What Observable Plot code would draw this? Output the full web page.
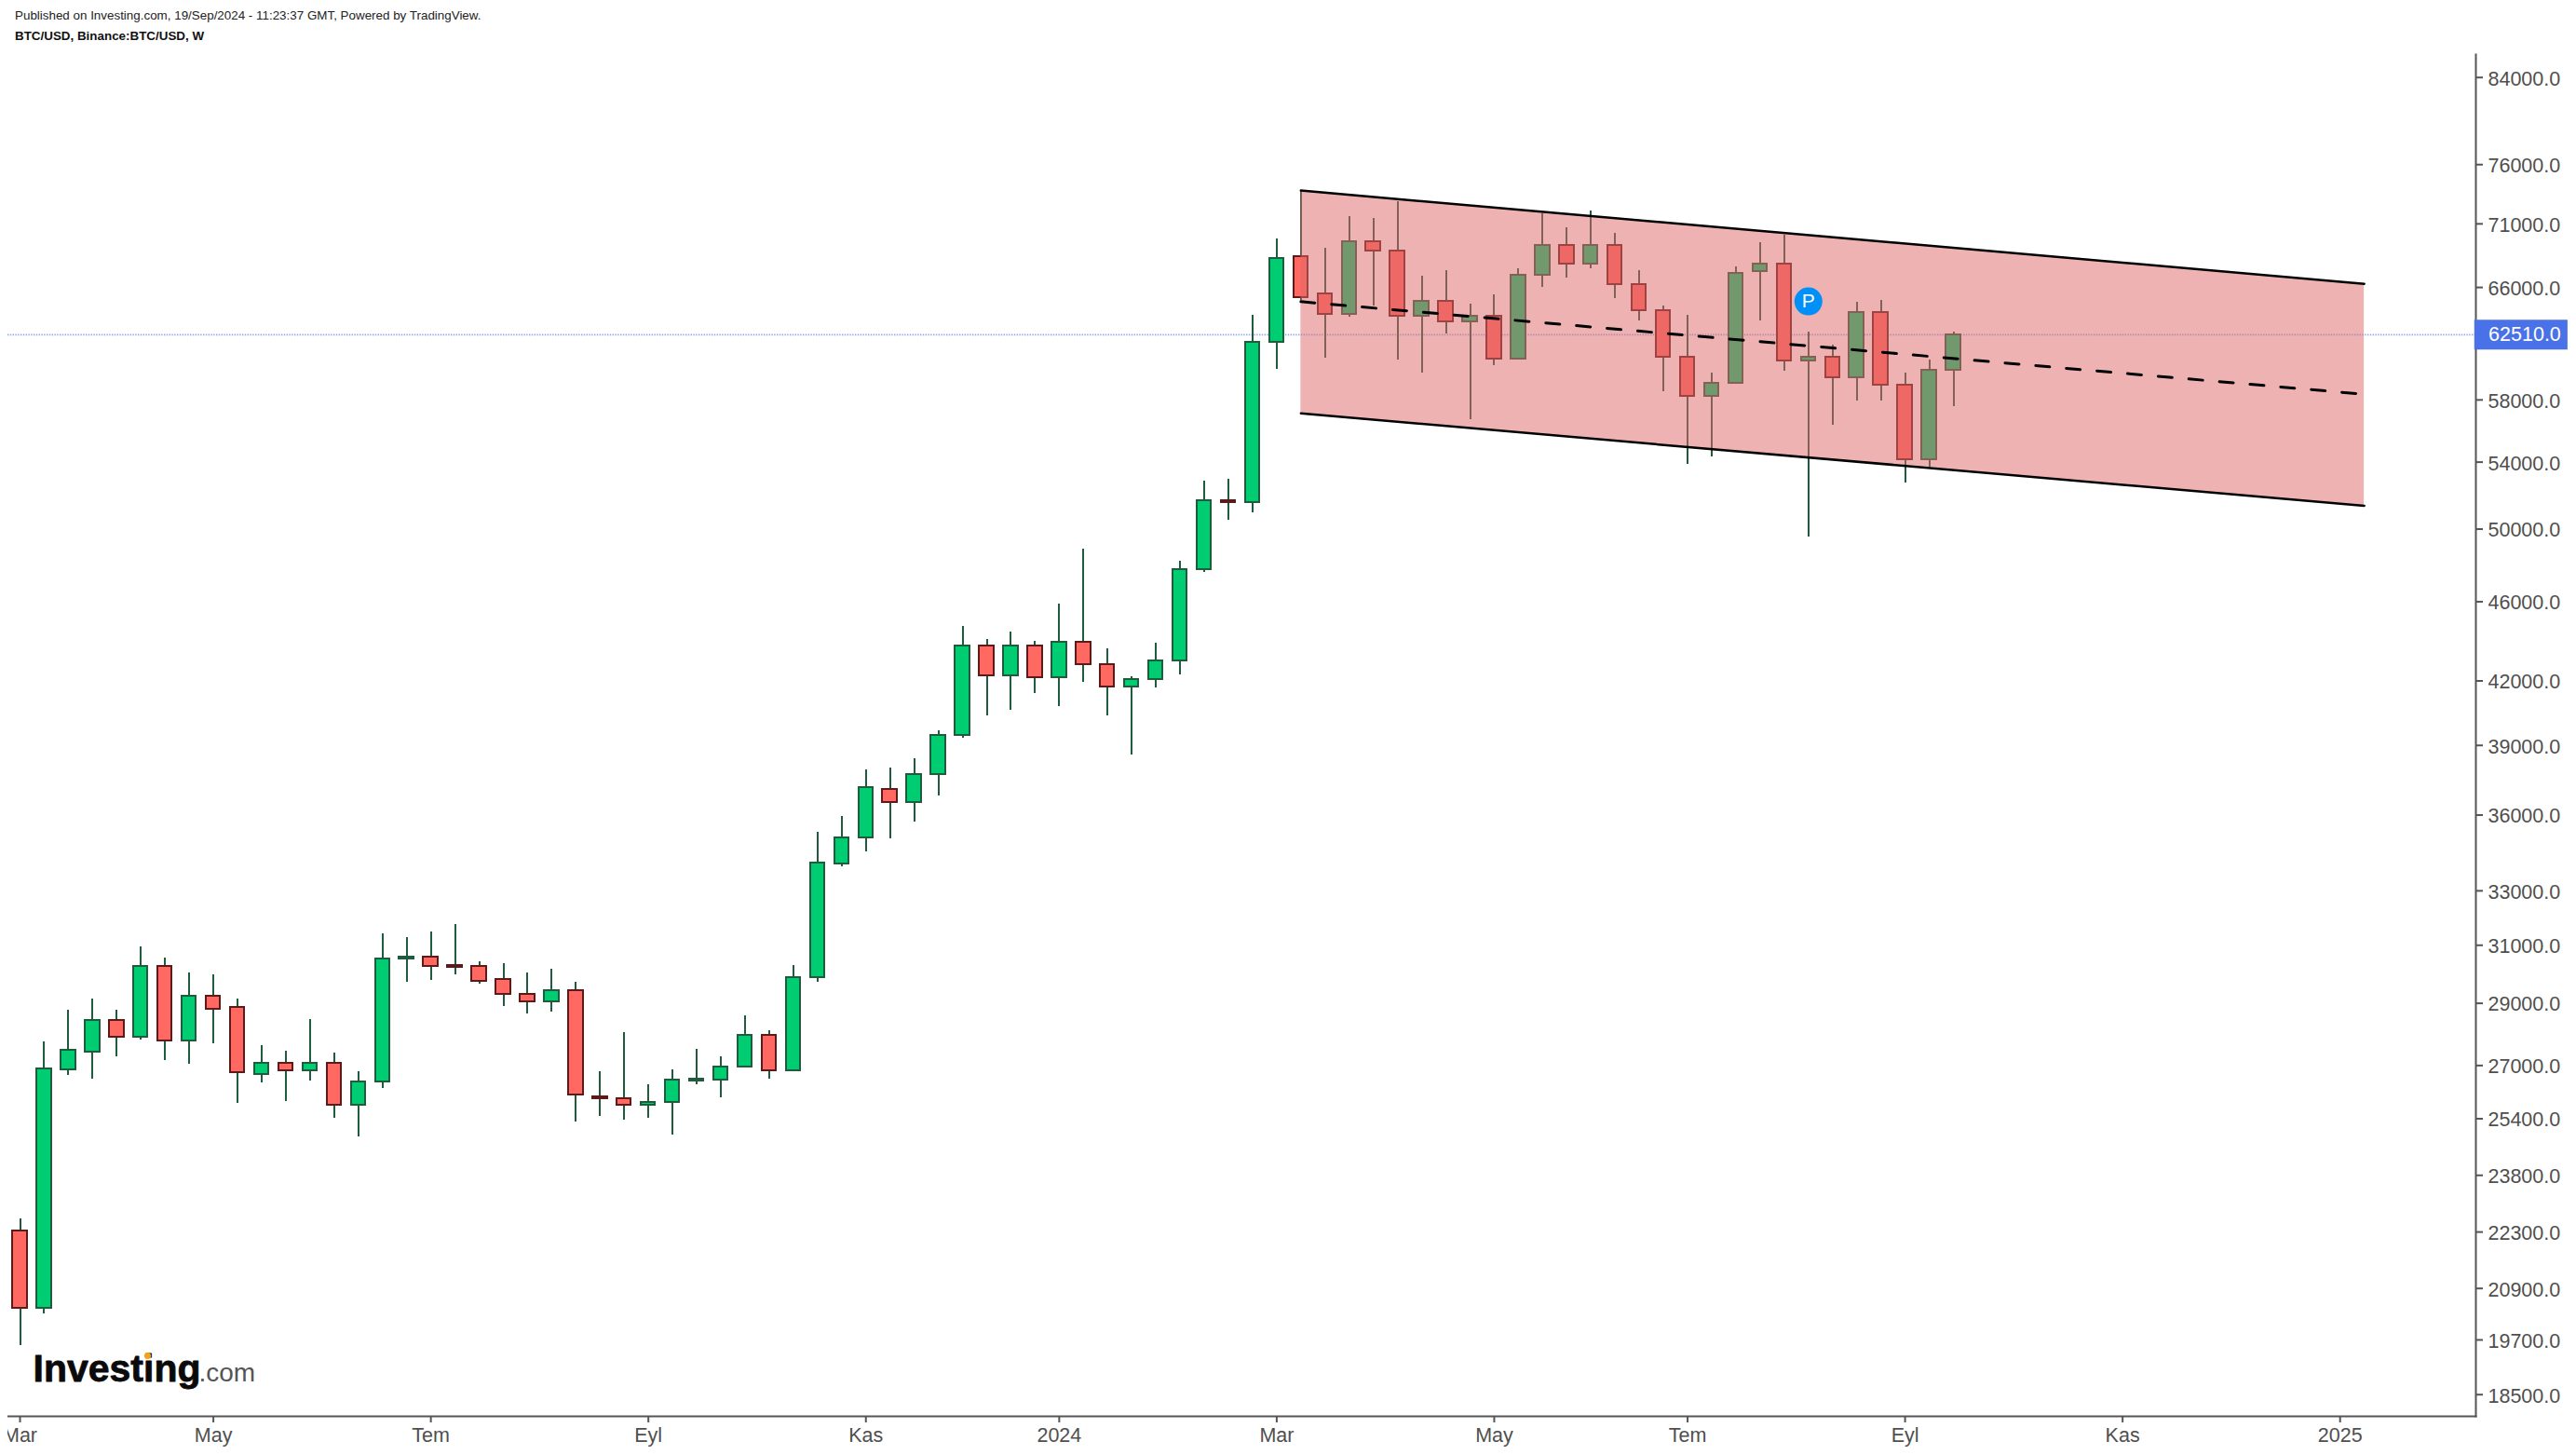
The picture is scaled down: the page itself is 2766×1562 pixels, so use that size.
<!doctype html>
<html><head><meta charset="utf-8">
<script src="https://cdn.jsdelivr.net/npm/d3@7"></script>
<script src="https://cdn.jsdelivr.net/npm/@observablehq/plot@0.6"></script>
<style>
html,body{margin:0;padding:0;background:#fff;overflow:hidden}
#head{position:relative;height:46px;font-family:"Liberation Sans",Arial,sans-serif;color:#222}
#head div{position:absolute;left:16px;white-space:nowrap}
#l1{top:9px;font-size:13.4px}
#l2{top:31px;font-size:13.4px;font-weight:bold;color:#111}
#chart{margin-left:8px}
</style></head><body>
<div id="head">
<div id="l1">Published on Investing.com, 19/Sep/2024 - 11:23:37 GMT, Powered by TradingView.</div>
<div id="l2">BTC/USD, Binance:BTC/USD, W</div>
</div>
<div id="chart"></div>
<script>
const firstWeek = "2023-03-06";
const highs = [22640,27740,28770,29140,28770,30940,30550,30030,29960,29140,27620,27450,28460,27390,26810,31410,31270,31480,31750,30420,30350,30030,30160,29710,26810,
28040,26410,26870,27510,27270,28590,28100,30290,35290,35940,37920,38000,38410,39660,44710,44050,44420,43950,45870,48860,43580,42200,43860,48190,52830,
52950,63920,69780,73770,69040,71600,71440,72830,66860,67290,64750,65440,67430,71850,70680,72060,70230,67290,64610,63920,59820,67580,69480,70080,62700,
61770,64880,65020,59820,60720,62700];
const bodyTops = [22330,26900,27490,28440,28440,30260,30260,29250,29250,28870,27080,27080,27080,27080,26500,30530,30590,30590,30280,30260,29810,29310,29430,29430,26050,
26000,25890,26560,26570,26960,27960,27960,29880,34070,35080,37170,37090,37730,39460,43730,43730,43730,43730,43920,43920,42810,42080,42990,47740,51680,
51680,61990,68260,68400,65540,69580,69580,68840,64980,64980,63870,63870,66950,69290,69290,69290,69290,66240,64290,60940,59140,67100,67820,67820,60940,
60940,64150,64150,59010,60030,62520];
const bodyBottoms = [20440,20440,26880,27410,27880,27880,27760,27760,28790,26770,26710,26830,26830,25810,25810,26490,30500,30240,30230,29730,29290,29040,29040,26090,25980,
25810,25810,25870,26530,26540,26940,26830,26830,29860,34020,35060,36510,36510,37700,39440,42230,42230,42140,42140,42780,41690,41690,42050,42960,47710,
51530,51530,61940,65210,63960,63960,68790,63830,63830,63420,63420,60760,60760,66910,67770,67770,66190,64240,60890,58220,58220,59100,67190,60630,60630,
59480,59480,58970,54130,54130,59990];
const lows = [19570,20300,26690,26580,27270,27800,27150,27040,27680,25850,26470,25910,26520,25410,24870,26300,29710,29770,29960,29650,28890,28650,28710,25300,25470,
25360,25410,24930,26410,26020,26940,26580,26830,29710,33920,34510,35030,35710,36800,39320,40350,40610,41400,40780,41930,40350,38570,41660,42290,47570,
50510,50950,60070,65050,60850,63780,64610,60720,59820,62570,56700,60330,60760,66000,66710,67430,65160,63510,58550,53860,54320,59100,63510,59940,49550,
56340,57930,57930,52720,53670,57560];
const weekDirections = ("d u u u d u d u d d " + "u d u d u u u d d d " + "d d u d d d u u u u " + "u d u u u u d u u u " +
  "d u d u d d u u u u " + "d u u d d u d d u d " + "u d u u d u d d d d " + "u u u d u d u d d u u").split(" ");

const yTicks = [84000,76000,71000,66000,58000,54000,50000,46000,42000,39000,36000,33000,31000,29000,27000,25400,23800,22300,20900,19700,18500];
const xTickDates = ["2023-03-06","2023-05-01","2023-07-03","2023-09-04","2023-11-06","2024-01-01","2024-03-04","2024-05-06","2024-07-01","2024-09-02","2024-11-04","2025-01-06"];
const xTickLabels = ["Mar","May","Tem","Eyl","Kas","2024","Mar","May","Tem","Eyl","Kas","2025"];

const channelDates = ["2024-03-11","2025-01-13"];
const channelUpper = [73770,66270];
const channelMiddle = [64930,58380];
const channelLower = [57110,51360];

const currentPrice = 62510;
const publishDate = "2024-08-05";
const publishPrice = 64950;

const toDate = s => new Date(s + "T00:00:00Z");
const GREEN = "#00cc72", GREEN_DARK = "#1f5c3e", RED = "#ff6961", RED_DARK = "#5e1a1a", AXIS = "#555555", LABEL = "#4f4f4f";
const bodyHalfDays = 2.08;

const candles = highs.map((high, i) => {
  const date = d3.utcDay.offset(toDate(firstWeek), 7 * i);
  return {
    date,
    left: new Date(+date - bodyHalfDays * 864e5),
    right: new Date(+date + bodyHalfDays * 864e5),
    high, low: lows[i], top: bodyTops[i], bottom: bodyBottoms[i], up: weekDirections[i] === "u"
  };
});
const channel = channelDates.map((d, i) => ({date: toDate(d), upper: channelUpper[i], middle: channelMiddle[i], lower: channelLower[i]}));
const tickLabel = new Map(xTickDates.map((d, i) => [+toDate(d), xTickLabels[i]]));
const crisp = {shapeRendering: "crispEdges"};

const chart = Plot.plot({
  width: 2758, height: 1516,
  marginLeft: 0, marginRight: 108, marginTop: 12, marginBottom: 42,
  style: {fontFamily: '"Liberation Sans", Arial, sans-serif', fontSize: "21.5px", background: "transparent"},
  x: {type: "utc", domain: [toDate("2023-03-06"), toDate("2025-01-06")], range: [13, 2504.2], axis: null},
  y: {type: "log", domain: [18500, 84000], range: [1450.7, 36.7], axis: null},
  marks: [
    Plot.ruleY([currentPrice], {stroke: "#8fa6ee", strokeWidth: 1.6, strokeDasharray: "1.4,1.4"}),
    Plot.ruleX(candles, {x: "date", y1: "low", y2: "high", stroke: GREEN_DARK, strokeWidth: 2, ...crisp}),
    Plot.rect(candles, {x1: "left", x2: "right", y1: "bottom", y2: "top",
      fill: d => d.up ? GREEN : RED, stroke: d => d.up ? GREEN_DARK : RED_DARK, strokeWidth: 2, ...crisp}),
    Plot.areaY(channel, {x: "date", y1: "lower", y2: "upper", fill: "#de6969", fillOpacity: 0.514}),
    Plot.line(channel, {x: "date", y: "upper", stroke: "#000", strokeWidth: 2.5}),
    Plot.line(channel, {x: "date", y: "lower", stroke: "#000", strokeWidth: 2.5}),
    Plot.line(channel, {x: "date", y: "middle", stroke: "#000", strokeWidth: 3, strokeDasharray: "15,18"}),
    Plot.frame({anchor: "right", stroke: AXIS, strokeWidth: 2}),
    Plot.frame({anchor: "bottom", stroke: AXIS, strokeWidth: 2}),
    Plot.axisY(yTicks, {anchor: "right", tickSize: 7, stroke: AXIS, strokeWidth: 2, fill: "none", label: null}),
    Plot.axisY(yTicks, {anchor: "right", tickSize: 7, tickPadding: 6, stroke: "none", fill: LABEL, dy: 1.5,
      tickFormat: d => d.toFixed(1), label: null}),
    Plot.axisX(xTickDates.map(toDate), {anchor: "bottom", tickSize: 7, tickPadding: 5, stroke: AXIS, strokeWidth: 2, fill: LABEL,
      tickFormat: d => tickLabel.get(+d), label: null, textOverflow: null}),
    Plot.ruleY([currentPrice], {x1: toDate("2025-02-14"), x2: toDate("2025-03-13"), y: d => d, stroke: "#4a72e8", strokeWidth: 32}),
    Plot.text([currentPrice], {x: toDate("2025-02-18"), y: d => d, text: d => d.toFixed(1), textAnchor: "start", fill: "#fff", fontSize: 21.5}),
    Plot.dot([publishPrice], {x: toDate(publishDate), y: d => d, r: 15, fill: "#0090f8", stroke: "none"}),
    Plot.text([publishPrice], {x: toDate(publishDate), y: d => d, text: ["P"], fill: "#fff", fontSize: 21}),
    Plot.text(["Investing"], {frameAnchor: "bottom-left", dx: 27, dy: -38, textAnchor: "start", lineAnchor: "bottom",
      fontSize: 41, fontWeight: "bold", fill: "#0a0a0a", stroke: "#0a0a0a", strokeWidth: 0.8, letterSpacing: "-0.3px"}),
    Plot.text([".com"], {frameAnchor: "bottom-left", dx: 205, dy: -38, textAnchor: "start", lineAnchor: "bottom",
      fontSize: 28, fill: "#555"}),
    Plot.dot([0], {frameAnchor: "bottom-left", dx: 150, dy: -65, r: 3.6, fill: "#f7a11a", stroke: "none"})
  ]
});
document.getElementById("chart").append(chart);
</script>
</body></html>
